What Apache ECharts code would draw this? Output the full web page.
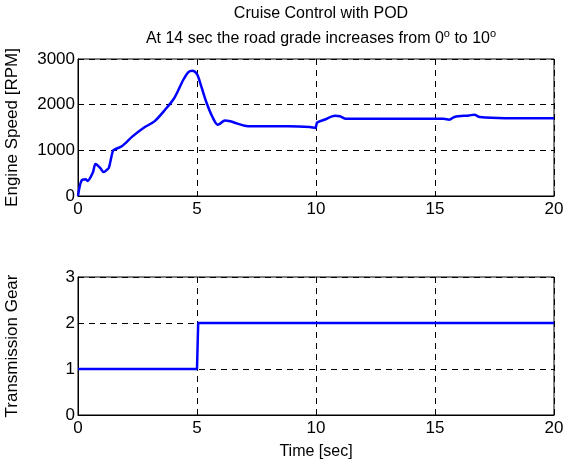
<!DOCTYPE html>
<html>
<head>
<meta charset="utf-8">
<script src="https://cdn.jsdelivr.net/npm/echarts@6/dist/echarts.min.js"></script>
<style>
  html, body { margin: 0; padding: 0; background: #fff; }
  #chart { width: 566px; height: 459px; }
</style>
</head>
<body>
<div id="chart"></div>
<script>
// engine speed trace (time sec, rpm)
const speedTime = [0, 0.14, 0.32, 0.4, 0.62, 0.74, 0.93, 1.08, 1.23, 1.3, 1.46, 1.53, 1.84, 2.29, 2.75, 3.21, 3.66, 4.04, 4.42, 4.65, 4.8, 5.0, 5.18, 5.41, 5.64, 5.87, 5.97, 6.17, 6.4, 6.7, 7.0, 7.3, 8.83, 9.74, 9.97, 10.05, 10.35, 10.8, 11.0, 11.26, 11.87, 13.39, 15.36, 15.6, 15.82, 16.43, 16.65, 16.88, 17.95, 20];
const speedRpm = [0, 330, 365, 330, 510, 700, 615, 525, 580, 620, 980, 1015, 1090, 1305, 1490, 1635, 1890, 2140, 2540, 2720, 2745, 2670, 2400, 2030, 1740, 1560, 1585, 1655, 1635, 1585, 1540, 1525, 1525, 1510, 1490, 1610, 1670, 1755, 1745, 1690, 1690, 1690, 1690, 1670, 1730, 1765, 1780, 1730, 1705, 1705];

// transmission gear
const gearTime = [0, 5.0, 5.05, 20];
const gearValue = [1, 1, 2, 2];

const xTicks = [0, 5, 10, 15, 20];

const fontFamily = '"Liberation Sans", Arial, sans-serif';
const tickSize = 17;
const nameSize = 17;

function zip(a, b) {
  return a.map((v, i) => [v, b[i]]);
}

function makeX(gridIndex, name) {
  return {
    type: 'value',
    gridIndex: gridIndex,
    min: xTicks[0],
    max: xTicks[xTicks.length - 1],
    interval: 5,
    name: name,
    nameLocation: 'middle',
    nameGap: 29,
    nameTextStyle: { color: '#000', fontSize: 16, fontFamily: fontFamily },
    axisLine: { show: true, onZero: false, lineStyle: { color: '#000', width: 1 } },
    axisTick: { show: true, inside: true, length: 4, lineStyle: { color: '#000' } },
    axisLabel: { color: '#000', fontSize: tickSize, fontFamily: fontFamily, margin: 5, formatter: v => String(v) },
    splitLine: { show: true, lineStyle: { color: '#000', type: [6, 5], width: 1 } }
  };
}

function makeY(gridIndex, name, max, interval) {
  return {
    type: 'value',
    gridIndex: gridIndex,
    min: 0,
    max: max,
    interval: interval,
    name: name,
    nameLocation: 'middle',
    nameGap: 57,
    nameTextStyle: { color: '#000', fontSize: nameSize, fontFamily: fontFamily },
    axisLine: { show: true, lineStyle: { color: '#000', width: 1 } },
    axisTick: { show: true, inside: true, length: 4, lineStyle: { color: '#000' } },
    axisLabel: { color: '#000', fontSize: tickSize, fontFamily: fontFamily, margin: 3, formatter: v => String(v) },
    splitLine: { show: true, lineStyle: { color: '#000', type: [6, 5], width: 1 } }
  };
}

let myChart = echarts.init(document.getElementById('chart'), null, { renderer: 'canvas' });

myChart.setOption({
  backgroundColor: '#fff',
  animation: false,
  title: [
    {
      text: 'Cruise Control with POD',
      left: 316,
      top: 1,
      textAlign: 'center',
      textStyle: { color: '#000', fontSize: 16, fontWeight: 'normal', fontFamily: fontFamily }
    },
    {
      text: '{a|At 14 sec the road grade increases from 0}{s|o}{a| to 10}{s|o}',
      left: 316,
      top: 23,
      textAlign: 'center',
      textStyle: {
        fontFamily: fontFamily,
        fontWeight: 'normal',
        rich: {
          a: { color: '#000', fontSize: 16, fontWeight: 'normal', fontFamily: fontFamily },
          s: { color: '#000', fontSize: 11, fontWeight: 'normal', fontFamily: fontFamily, padding: [0, 0, 11, 0] }
        }
      }
    }
  ],
  grid: [
    { left: 78, top: 59, width: 476, height: 137, outerBoundsMode: 'none', containLabel: false, show: true, borderColor: '#000', borderWidth: 1, backgroundColor: 'transparent' },
    { left: 78, top: 277, width: 476, height: 138, outerBoundsMode: 'none', containLabel: false, show: true, borderColor: '#000', borderWidth: 1, backgroundColor: 'transparent' }
  ],
  xAxis: [makeX(0, ''), makeX(1, 'Time [sec]')],
  yAxis: [makeY(0, 'Engine Speed [RPM]', 3000, 1000), makeY(1, 'Transmission Gear', 3, 1)],
  series: [
    {
      type: 'line',
      xAxisIndex: 0,
      yAxisIndex: 0,
      data: zip(speedTime, speedRpm),
      showSymbol: false,
      smooth: 0.3,
      lineStyle: { color: '#0000ff', width: 2.5 }
    },
    {
      type: 'line',
      xAxisIndex: 1,
      yAxisIndex: 1,
      data: zip(gearTime, gearValue),
      showSymbol: false,
      lineStyle: { color: '#0000ff', width: 2.5 }
    }
  ]
});
</script>
</body>
</html>
